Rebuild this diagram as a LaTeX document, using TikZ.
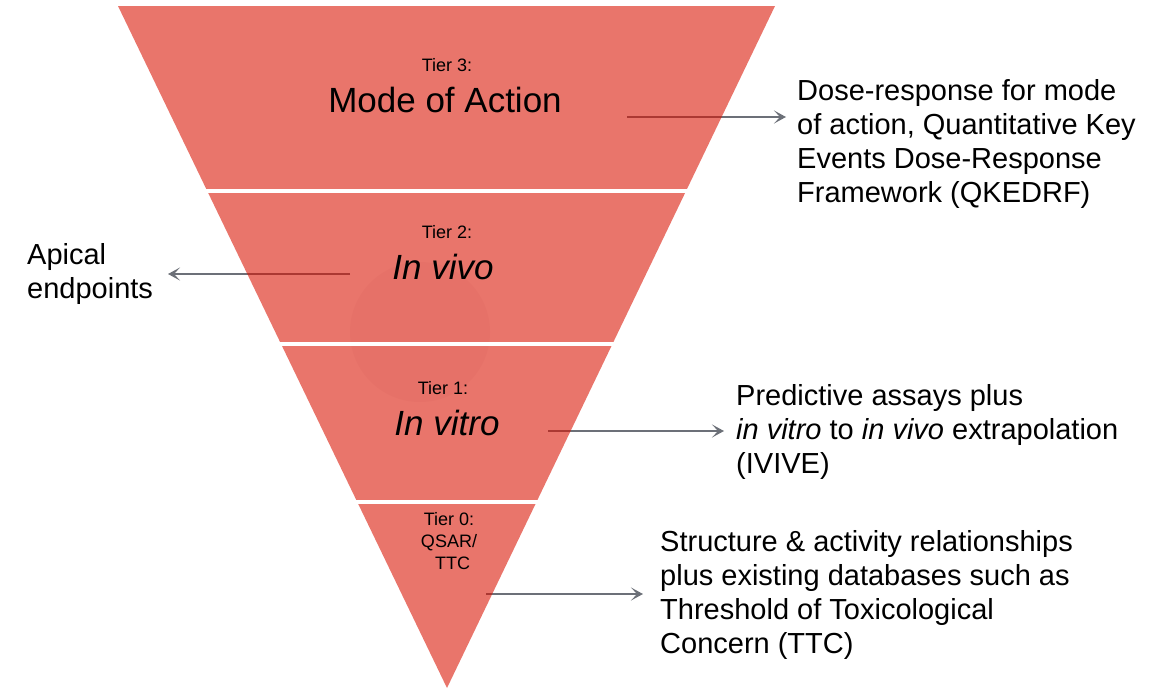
\documentclass[tikz,border=0pt]{standalone}
\usepackage{fontspec}
\setmainfont{Liberation Sans}
\usetikzlibrary{arrows.meta}
\definecolor{tierred}{RGB}{217,17,0}
\definecolor{leader}{RGB}{108,112,120}
\definecolor{haze}{RGB}{248,248,248}
\begin{document}
\begin{tikzpicture}[x=1pt,y=-1pt,
  note/.style={anchor=north west,align=left,inner sep=0pt,font=\fontsize{29}{34}\selectfont},
  tierno/.style={inner sep=0pt,align=center,font=\fontsize{18}{22}\selectfont},
  tiername/.style={inner sep=0pt,font=\fontsize{35}{40}\selectfont},
  leadarrow/.style={draw=leader,line width=1.6pt,-{Stealth[length=12pt,width=13pt,inset=6pt]}},
  gap/.style={draw=white,line width=4pt}]
\useasboundingbox (0,0) rectangle (1156,688);

% faint halo behind the middle tiers
\fill[haze] (420,332) circle (70);

% leader line anchors
\coordinate (a3s) at (627,117); \coordinate (a3e) at (786,117);
\coordinate (a2s) at (350,274); \coordinate (a2e) at (168,274);
\coordinate (a1s) at (548,431); \coordinate (a1e) at (724,431);
\coordinate (a0s) at (486,594); \coordinate (a0e) at (643,594);

\draw[leadarrow] (a3s) -- (a3e);
\draw[leadarrow] (a2s) -- (a2e);
\draw[leadarrow] (a1s) -- (a1e);
\draw[leadarrow] (a0s) -- (a0e);

% the inverted pyramid, translucent over the leaders
\fill[tierred,opacity=0.58] (118,6) -- (775,6) -- (447,688) -- cycle;

% separations between tiers
\draw[gap] (150,191) -- (750,191);
\draw[gap] (250,344) -- (650,344);
\draw[gap] (300,502) -- (600,502);

% tier labels
\node[tierno]   (t3) at (447,65)  {Tier 3:};
\node[tiername] (n3) at (445,100) {Mode of Action};
\node[tierno]   (t2) at (447,232) {Tier 2:};
\node[tiername] (n2) at (443,267) {\itshape In vivo};
\node[tierno]   (t1) at (443,388) {Tier 1:};
\node[tiername] (n1) at (447,423) {\itshape In vitro};
\node[tierno]   (t0) at (449,541) {Tier 0:\\QSAR/\\\hspace*{0.4em}TTC};

% side descriptions
\node[note] (d3) at (797,79) {Dose-response for mode\\of action, Quantitative Key\\Events Dose-Response\\Framework (QKEDRF)};
\node[note] (d2) at (27,243) {Apical\\endpoints};
\node[note] (d1) at (736,384) {Predictive assays plus\\\textit{in vitro} to \textit{in vivo} extrapolation\\(IVIVE)};
\node[note] (d0) at (660,530) {Structure \& activity relationships\\plus existing databases such as\\Threshold of Toxicological\\Concern (TTC)};
\end{tikzpicture}
\end{document}
